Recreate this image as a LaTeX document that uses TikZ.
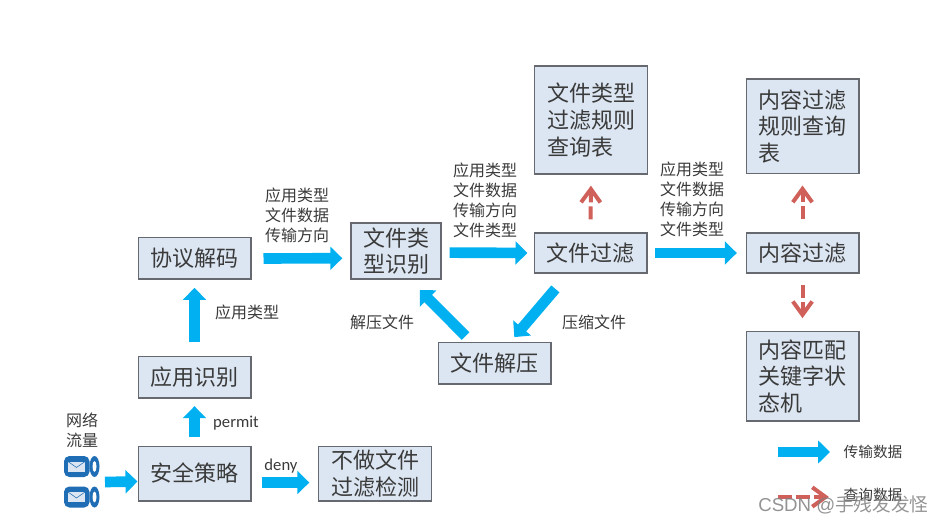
\documentclass[tikz,border=0pt]{standalone}
\usepackage{fontspec}
\setmainfont{Noto Sans CJK SC}
\newfontfamily\latinfont{Carlito}
\newfontfamily\markfont{Liberation Sans}
\usetikzlibrary{arrows.meta}
\definecolor{boxfill}{HTML}{DCE6F2}
\definecolor{boxline}{HTML}{666A70}
\definecolor{textgray}{HTML}{3A3A3A}
\definecolor{flowblue}{HTML}{00B0F0}
\definecolor{queryred}{HTML}{D0605A}
\definecolor{mailblue}{HTML}{1F6DB4}
\tikzset{
  box/.style={draw=boxline,line width=1pt,fill=boxfill,text=textgray,inner sep=0pt,
    font=\fontsize{16.5}{20}\selectfont,minimum width=84.5pt},
  tallbox/.style={box,align=left,text width=66pt,inner xsep=9.25pt},
  note/.style={text=textgray,inner sep=0pt,align=left,font=\fontsize{12}{15}\selectfont},
  flow/.style={draw=flowblue,line width=8pt,-{Triangle[length=9pt,width=17pt,fill=flowblue]}},
  query/.style={draw=queryred,line width=3pt,dash pattern=on 9.75pt off 3pt on 30pt,
    -{Straight Barb[length=10pt,width=14.5pt,line width=3pt]}},
  mailicon/.pic={
    \fill[mailblue,rounded corners=4pt] (-17,-10.5) rectangle (8.5,10.5);
    \fill[mailblue] (13.5,0) ellipse [x radius=5,y radius=10.5];
    \fill[white] (13.5,0) ellipse [x radius=2,y radius=5.5];
    \fill[boxfill] (-13,-5) rectangle (4,5);
    \draw[mailblue,line width=.4pt] (-13,-5) -- (-4.5,1) -- (4,-5);
  }
}
\begin{document}
\begin{tikzpicture}[x=.75pt,y=-.75pt]
  \useasboundingbox (0,0) rectangle (945,523);

  \node[box,minimum height=31pt] (proto) at (194.5,258.5) {协议解码};
  \node[box,minimum height=31pt] (appid) at (194.5,377.5) {应用识别};
  \node[box,minimum height=41pt] (policy) at (194.5,473.5) {安全策略};
  \node[tallbox,minimum height=41pt] (nofilter) at (375,473.5) {不做文件\\过滤检测};
  \node[box,minimum width=67.5pt,minimum height=42pt,align=center] (typeid) at (396,251) {文件类\\型识别};
  \node[box,minimum height=31pt] (unzip) at (494.5,363.5) {文件解压};
  \node[box,minimum height=30pt] (filefilter) at (590.5,253) {文件过滤};
  \node[tallbox,minimum height=81pt] (filetable) at (591,120) {文件类型\\过滤规则\\查询表};
  \node[box,minimum height=30pt] (textfilter) at (802.5,253) {内容过滤};
  \node[tallbox,minimum height=71pt] (texttable) at (802.5,126.5) {内容过滤\\规则查询\\表};
  \node[tallbox,minimum height=67pt] (matcher) at (802.5,376.5) {内容匹配\\关键字状\\态机};

  \pic (mailA) at (81,466.5) {mailicon};
  \pic (mailB) at (81,497) {mailicon};

  \coordinate (mailout) at (105,482);
  \coordinate (blueA) at (778,452);
  \coordinate (blueB) at (830,452);
  \coordinate (redA) at (778,497);
  \coordinate (redB) at (829,497);

  \draw[flow] (mailout) -- (policy.188.6);
  \draw[flow,shorten <=6.5pt,shorten >=5.5pt] (policy.north) -- (appid.south);
  \draw[flow,shorten <=10.5pt,shorten >=6pt] (appid.north) -- (proto.south);
  \draw[flow,shorten <=7.5pt,shorten >=6.5pt] (policy.-9.5) -- (nofilter.189.6);
  \draw[flow,shorten <=9pt,shorten >=6pt] (proto.east) -- (typeid.189.46);
  \draw[flow,shorten <=6pt,shorten >=4.5pt] (typeid.-2.5) -- (filefilter.west);
  \draw[flow,shorten <=5.5pt,shorten >=6.5pt] (filefilter.east) -- (textfilter.west);
  \draw[flow,shorten <=15pt,shorten >=5pt] (filefilter.-137) -- (unzip.54.7);
  \draw[flow,shorten <=6.5pt,shorten >=11pt] (unzip.137.7) -- (typeid.-65);
  \draw[flow] (blueA) -- (blueB);

  \draw[query,shorten <=9.75pt,shorten >=8.25pt] (filefilter.north) -- (filetable.south);
  \draw[query,shorten <=9.75pt,shorten >=8.25pt] (textfilter.north) -- (texttable.south);
  \draw[query,shorten <=8.25pt,shorten >=9.75pt] (textfilter.south) -- (matcher.north);
  \draw[query,dash pattern=on 10.5pt off 3pt on 10.5pt off 3pt on 30pt] (redA) -- (redB);

  \node[note] (inlabel) at (82,430) {网络\\流量};
  \node[note,font=\latinfont\fontsize{12.5}{15}\selectfont] (permit) at (236,423) {permit};
  \node[note,font=\latinfont\fontsize{12.5}{15}\selectfont] (deny) at (281,466) {deny};
  \node[note] (applabel) at (247,312) {应用类型};
  \node[note] (protolabel) at (297,215) {应用类型\\文件数据\\传输方向};
  \node[note] (typelabel) at (485,200) {应用类型\\文件数据\\传输方向\\文件类型};
  \node[note] (filterlabel) at (692,199.5) {应用类型\\文件数据\\传输方向\\文件类型};
  \node[note] (unziplabel) at (382,322) {解压文件};
  \node[note] (ziplabel) at (594,322) {压缩文件};
  \node[note,font=\fontsize{11}{14}\selectfont] (bluelabel) at (873,451.5) {传输数据};
  \node[note,font=\fontsize{11}{14}\selectfont] (redlabel) at (873,495) {查询数据};

  \node[inner sep=0pt,text=gray,opacity=.85,anchor=west,font=\fontsize{14}{16}\selectfont] (mark) at (758,505)
    {{\markfont CSDN @}手残发发怪};
\end{tikzpicture}
\end{document}
